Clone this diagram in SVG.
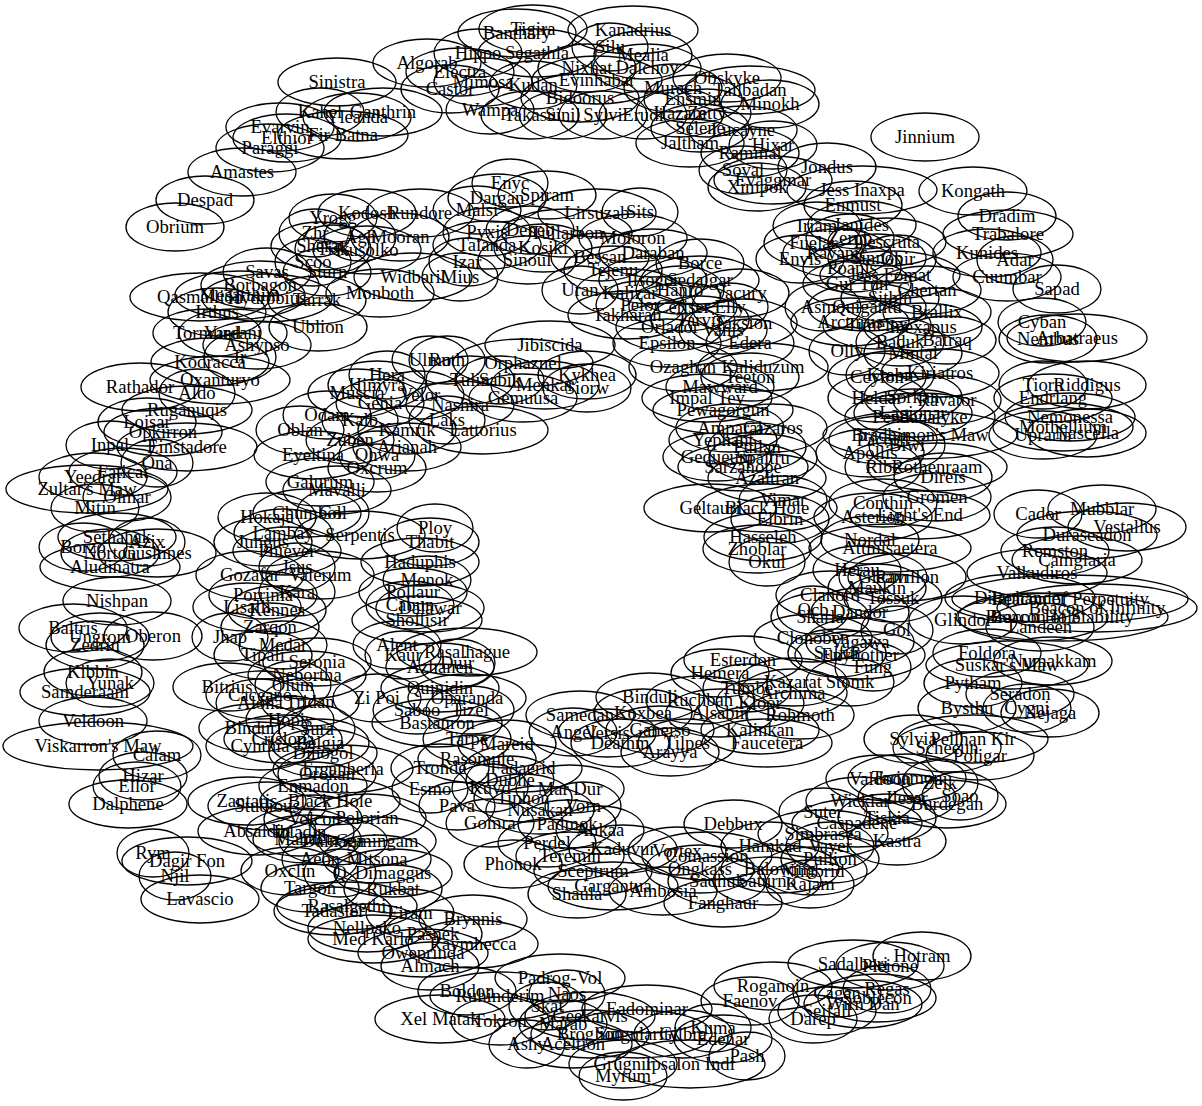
<svg xmlns="http://www.w3.org/2000/svg" width="1202" height="1106" viewBox="0 0 1202 1106">
<style>
ellipse{fill:none;stroke:#000;stroke-width:1.3}
text{font-family:"Liberation Serif","Times New Roman",serif;font-size:18.67px;text-anchor:middle;fill:#000}
</style>
<rect width="1202" height="1106" fill="#fff"/>
<g id="edges"></g>
<g id="nodes">
<g id="n1"><ellipse cx="533" cy="29" rx="54" ry="24"/><text x="533" y="35">Tigira</text></g>
<g id="n2"><ellipse cx="517" cy="33" rx="59" ry="24"/><text x="517" y="39">Banthary</text></g>
<g id="n3"><ellipse cx="633" cy="30" rx="65" ry="24"/><text x="633" y="36">Kanadrius</text></g>
<g id="n4"><ellipse cx="427" cy="63" rx="54" ry="24"/><text x="427" y="69">Algorab</text></g>
<g id="n5"><ellipse cx="478" cy="53" rx="44" ry="24"/><text x="478" y="59">Hippo</text></g>
<g id="n6"><ellipse cx="537" cy="53" rx="59" ry="24"/><text x="537" y="59">Segathia</text></g>
<g id="n7"><ellipse cx="610" cy="47" rx="38" ry="24"/><text x="610" y="53">Silu</text></g>
<g id="n8"><ellipse cx="643" cy="55" rx="49" ry="24"/><text x="643" y="61">Mealia</text></g>
<g id="n9"><ellipse cx="460" cy="72" rx="54" ry="24"/><text x="460" y="78">Electra</text></g>
<g id="n10"><ellipse cx="587" cy="68" rx="49" ry="24"/><text x="587" y="74">Nixhat</text></g>
<g id="n11"><ellipse cx="647" cy="68" rx="54" ry="24"/><text x="647" y="74">Dalchoy</text></g>
<g id="n12"><ellipse cx="597" cy="80" rx="65" ry="24"/><text x="597" y="86">Evinhabar</text></g>
<g id="n13"><ellipse cx="483" cy="82" rx="49" ry="24"/><text x="483" y="88">Mimosa</text></g>
<g id="n14"><ellipse cx="450" cy="89" rx="49" ry="24"/><text x="450" y="95">Castor</text></g>
<g id="n15"><ellipse cx="533" cy="85" rx="44" ry="24"/><text x="533" y="91">Kudan</text></g>
<g id="n16"><ellipse cx="727" cy="78" rx="54" ry="24"/><text x="727" y="84">Obskyke</text></g>
<g id="n17"><ellipse cx="673" cy="88" rx="49" ry="24"/><text x="673" y="94">Murach</text></g>
<g id="n18"><ellipse cx="750" cy="90" rx="65" ry="24"/><text x="750" y="96">Tallbadan</text></g>
<g id="n19"><ellipse cx="693" cy="99" rx="49" ry="24"/><text x="693" y="105">Ensmin</text></g>
<g id="n20"><ellipse cx="770" cy="104" rx="49" ry="24"/><text x="770" y="110">Minokh</text></g>
<g id="n21"><ellipse cx="580" cy="98" rx="59" ry="24"/><text x="580" y="104">Bidoorus</text></g>
<g id="n22"><ellipse cx="490" cy="110" rx="44" ry="24"/><text x="490" y="116">Wampa</text></g>
<g id="n23"><ellipse cx="530" cy="115" rx="49" ry="24"/><text x="530" y="121">Takasu</text></g>
<g id="n24"><ellipse cx="563" cy="115" rx="44" ry="24"/><text x="563" y="121">Sinil</text></g>
<g id="n25"><ellipse cx="603" cy="115" rx="44" ry="24"/><text x="603" y="121">Sylvi</text></g>
<g id="n26"><ellipse cx="643" cy="115" rx="44" ry="24"/><text x="643" y="121">Erudi</text></g>
<g id="n27"><ellipse cx="680" cy="113" rx="44" ry="24"/><text x="680" y="119">Hazam</text></g>
<g id="n28"><ellipse cx="707" cy="113" rx="44" ry="24"/><text x="707" y="119">Zetty</text></g>
<g id="n29"><ellipse cx="700" cy="128" rx="49" ry="24"/><text x="700" y="134">Selene</text></g>
<g id="n30"><ellipse cx="743" cy="130" rx="54" ry="24"/><text x="743" y="136">Lucayne</text></g>
<g id="n31"><ellipse cx="690" cy="143" rx="54" ry="24"/><text x="690" y="149">Jaltham</text></g>
<g id="n32"><ellipse cx="773" cy="145" rx="44" ry="24"/><text x="773" y="151">Hixar</text></g>
<g id="n33"><ellipse cx="750" cy="153" rx="49" ry="24"/><text x="750" y="159">Rammal</text></g>
<g id="n34"><ellipse cx="743" cy="170" rx="44" ry="24"/><text x="743" y="176">Soval</text></g>
<g id="n35"><ellipse cx="773" cy="180" rx="59" ry="24"/><text x="773" y="186">Evaggmar</text></g>
<g id="n36"><ellipse cx="757" cy="187" rx="49" ry="24"/><text x="757" y="193">Ximpok</text></g>
<g id="n37"><ellipse cx="827" cy="167" rx="49" ry="24"/><text x="827" y="173">Jondus</text></g>
<g id="n38"><ellipse cx="925" cy="137" rx="54" ry="24"/><text x="925" y="143">Jinnium</text></g>
<g id="n39"><ellipse cx="862" cy="190" rx="75" ry="24"/><text x="862" y="196">Jess Inaxpa</text></g>
<g id="n40"><ellipse cx="973" cy="191" rx="54" ry="24"/><text x="973" y="197">Kongath</text></g>
<g id="n41"><ellipse cx="853" cy="205" rx="49" ry="24"/><text x="853" y="211">Enmust</text></g>
<g id="n42"><ellipse cx="1007" cy="216" rx="49" ry="24"/><text x="1007" y="222">Dradim</text></g>
<g id="n43"><ellipse cx="1008" cy="234" rx="65" ry="24"/><text x="1008" y="240">Trabalore</text></g>
<g id="n44"><ellipse cx="817" cy="226" rx="44" ry="24"/><text x="817" y="232">Iriam</text></g>
<g id="n45"><ellipse cx="862" cy="225" rx="54" ry="24"/><text x="862" y="231">Ianides</text></g>
<g id="n46"><ellipse cx="850" cy="238" rx="44" ry="24"/><text x="850" y="244">Zerub</text></g>
<g id="n47"><ellipse cx="813" cy="243" rx="49" ry="24"/><text x="813" y="249">Fuelar</text></g>
<g id="n48"><ellipse cx="887" cy="242" rx="59" ry="24"/><text x="887" y="248">Descruta</text></g>
<g id="n49"><ellipse cx="837" cy="253" rx="54" ry="24"/><text x="837" y="259">Ravanic</text></g>
<g id="n50"><ellipse cx="800" cy="259" rx="44" ry="24"/><text x="800" y="265">Envis</text></g>
<g id="n51"><ellipse cx="877" cy="258" rx="49" ry="24"/><text x="877" y="264">Sinnop</text></g>
<g id="n52"><ellipse cx="898" cy="259" rx="38" ry="24"/><text x="898" y="265">Ghir</text></g>
<g id="n53"><ellipse cx="987" cy="253" rx="54" ry="24"/><text x="987" y="259">Kunides</text></g>
<g id="n54"><ellipse cx="1015" cy="260" rx="38" ry="24"/><text x="1015" y="266">Adar</text></g>
<g id="n55"><ellipse cx="1007" cy="277" rx="54" ry="24"/><text x="1007" y="283">Cuumbar</text></g>
<g id="n56"><ellipse cx="1057" cy="289" rx="44" ry="24"/><text x="1057" y="295">Sapad</text></g>
<g id="n57"><ellipse cx="852" cy="268" rx="49" ry="24"/><text x="852" y="274">Poanis</text></g>
<g id="n58"><ellipse cx="890" cy="275" rx="70" ry="24"/><text x="890" y="281">Jess Fomat</text></g>
<g id="n59"><ellipse cx="857" cy="284" rx="54" ry="24"/><text x="857" y="290">Gur Tun</text></g>
<g id="n60"><ellipse cx="927" cy="290" rx="54" ry="24"/><text x="927" y="296">Chertan</text></g>
<g id="n61"><ellipse cx="890" cy="298" rx="49" ry="24"/><text x="890" y="304">Sithin</text></g>
<g id="n62"><ellipse cx="823" cy="307" rx="38" ry="24"/><text x="823" y="313">Asmo</text></g>
<g id="n63"><ellipse cx="867" cy="307" rx="59" ry="24"/><text x="867" y="313">Quigantu</text></g>
<g id="n64"><ellipse cx="937" cy="312" rx="54" ry="24"/><text x="937" y="318">Brallix</text></g>
<g id="n65"><ellipse cx="850" cy="322" rx="59" ry="24"/><text x="850" y="328">Arcturus</text></g>
<g id="n66"><ellipse cx="877" cy="325" rx="54" ry="24"/><text x="877" y="331">Timelex</text></g>
<g id="n67"><ellipse cx="923" cy="327" rx="59" ry="24"/><text x="923" y="333">Inexapus</text></g>
<g id="n68"><ellipse cx="900" cy="342" rx="44" ry="24"/><text x="900" y="348">Baduk</text></g>
<g id="n69"><ellipse cx="947" cy="340" rx="49" ry="24"/><text x="947" y="346">Batraq</text></g>
<g id="n70"><ellipse cx="847" cy="351" rx="38" ry="24"/><text x="847" y="357">Olly</text></g>
<g id="n71"><ellipse cx="913" cy="353" rx="49" ry="24"/><text x="913" y="359">Mintal</text></g>
<g id="n72"><ellipse cx="1042" cy="322" rx="44" ry="24"/><text x="1042" y="328">Cyban</text></g>
<g id="n73"><ellipse cx="1048" cy="339" rx="49" ry="24"/><text x="1048" y="345">Nembus</text></g>
<g id="n74"><ellipse cx="1077" cy="338" rx="70" ry="24"/><text x="1077" y="344">Arbatraeus</text></g>
<g id="n75"><ellipse cx="337" cy="82" rx="59" ry="24"/><text x="337" y="88">Sinistra</text></g>
<g id="n76"><ellipse cx="320" cy="112" rx="44" ry="24"/><text x="320" y="118">Kahel</text></g>
<g id="n77"><ellipse cx="383" cy="112" rx="59" ry="24"/><text x="383" y="118">Ganthrin</text></g>
<g id="n78"><ellipse cx="357" cy="117" rx="54" ry="24"/><text x="357" y="123">Yleanda</text></g>
<g id="n79"><ellipse cx="280" cy="127" rx="54" ry="24"/><text x="280" y="133">Evarvin</text></g>
<g id="n80"><ellipse cx="287" cy="138" rx="54" ry="24"/><text x="287" y="144">Elthior</text></g>
<g id="n81"><ellipse cx="343" cy="135" rx="65" ry="24"/><text x="343" y="141">Fir Batna</text></g>
<g id="n82"><ellipse cx="270" cy="148" rx="54" ry="24"/><text x="270" y="154">Paraggi</text></g>
<g id="n83"><ellipse cx="242" cy="172" rx="54" ry="24"/><text x="242" y="178">Amastes</text></g>
<g id="n84"><ellipse cx="205" cy="200" rx="49" ry="24"/><text x="205" y="206">Despad</text></g>
<g id="n85"><ellipse cx="175" cy="227" rx="49" ry="24"/><text x="175" y="233">Obrium</text></g>
<g id="n86"><ellipse cx="333" cy="218" rx="44" ry="24"/><text x="333" y="224">Yrogg</text></g>
<g id="n87"><ellipse cx="367" cy="213" rx="49" ry="24"/><text x="367" y="219">Kodosh</text></g>
<g id="n88"><ellipse cx="420" cy="213" rx="54" ry="24"/><text x="420" y="219">Rundore</text></g>
<g id="n89"><ellipse cx="477" cy="210" rx="44" ry="24"/><text x="477" y="216">Malsi</text></g>
<g id="n90"><ellipse cx="315" cy="233" rx="36" ry="24"/><text x="315" y="239">Zhr</text></g>
<g id="n91"><ellipse cx="360" cy="237" rx="36" ry="24"/><text x="360" y="243">Agh</text></g>
<g id="n92"><ellipse cx="400" cy="237" rx="49" ry="24"/><text x="400" y="243">Mooran</text></g>
<g id="n93"><ellipse cx="320" cy="246" rx="49" ry="24"/><text x="320" y="252">Sherat</text></g>
<g id="n94"><ellipse cx="333" cy="249" rx="38" ry="24"/><text x="333" y="255">Tisk</text></g>
<g id="n95"><ellipse cx="367" cy="250" rx="54" ry="24"/><text x="367" y="256">Kusolko</text></g>
<g id="n96"><ellipse cx="313" cy="262" rx="38" ry="24"/><text x="313" y="268">Scoo</text></g>
<g id="n97"><ellipse cx="267" cy="272" rx="44" ry="24"/><text x="267" y="278">Savas</text></g>
<g id="n98"><ellipse cx="327" cy="272" rx="44" ry="24"/><text x="327" y="278">Sturn</text></g>
<g id="n99"><ellipse cx="260" cy="285" rx="59" ry="24"/><text x="260" y="291">Borbagon</text></g>
<g id="n100"><ellipse cx="200" cy="297" rx="70" ry="24"/><text x="200" y="303">Qasmallion</text></g>
<g id="n101"><ellipse cx="240" cy="295" rx="65" ry="24"/><text x="240" y="301">Mesarthim</text></g>
<g id="n102"><ellipse cx="267" cy="298" rx="65" ry="24"/><text x="267" y="304">Hydrobius</text></g>
<g id="n103"><ellipse cx="317" cy="300" rx="49" ry="24"/><text x="317" y="306">Tarrak</text></g>
<g id="n104"><ellipse cx="380" cy="293" rx="54" ry="24"/><text x="380" y="299">Monboth</text></g>
<g id="n105"><ellipse cx="413" cy="277" rx="59" ry="24"/><text x="413" y="283">Widbaril</text></g>
<g id="n106"><ellipse cx="460" cy="277" rx="38" ry="24"/><text x="460" y="283">Mius</text></g>
<g id="n107"><ellipse cx="217" cy="312" rx="49" ry="24"/><text x="217" y="318">Irthus</text></g>
<g id="n108"><ellipse cx="318" cy="327" rx="49" ry="24"/><text x="318" y="333">Ublion</text></g>
<g id="n109"><ellipse cx="207" cy="333" rx="54" ry="24"/><text x="207" y="339">Tormund</text></g>
<g id="n110"><ellipse cx="233" cy="333" rx="54" ry="24"/><text x="233" y="339">Vardani</text></g>
<g id="n111"><ellipse cx="257" cy="345" rx="54" ry="24"/><text x="257" y="351">Ashypso</text></g>
<g id="n112"><ellipse cx="240" cy="357" rx="36" ry="24"/><text x="240" y="363">Ir</text></g>
<g id="n113"><ellipse cx="210" cy="362" rx="59" ry="24"/><text x="210" y="368">Kodracca</text></g>
<g id="n114"><ellipse cx="510" cy="183" rx="38" ry="24"/><text x="510" y="189">Enyc</text></g>
<g id="n115"><ellipse cx="497" cy="198" rx="49" ry="24"/><text x="497" y="204">Dargan</text></g>
<g id="n116"><ellipse cx="547" cy="195" rx="49" ry="24"/><text x="547" y="201">Spiram</text></g>
<g id="n117"><ellipse cx="597" cy="213" rx="59" ry="24"/><text x="597" y="219">Lirsuzab</text></g>
<g id="n118"><ellipse cx="640" cy="212" rx="38" ry="24"/><text x="640" y="218">Sits</text></g>
<g id="n119"><ellipse cx="487" cy="232" rx="44" ry="24"/><text x="487" y="238">Pyxis</text></g>
<g id="n120"><ellipse cx="530" cy="230" rx="44" ry="24"/><text x="530" y="236">Deneb</text></g>
<g id="n121"><ellipse cx="567" cy="233" rx="65" ry="24"/><text x="567" y="239">Tullarbon</text></g>
<g id="n122"><ellipse cx="633" cy="238" rx="54" ry="24"/><text x="633" y="244">Moloron</text></g>
<g id="n123"><ellipse cx="487" cy="245" rx="54" ry="24"/><text x="487" y="251">Talanda</text></g>
<g id="n124"><ellipse cx="543" cy="248" rx="49" ry="24"/><text x="543" y="254">Kosiki</text></g>
<g id="n125"><ellipse cx="653" cy="253" rx="54" ry="24"/><text x="653" y="259">Daraban</text></g>
<g id="n126"><ellipse cx="600" cy="257" rx="49" ry="24"/><text x="600" y="263">Bessan</text></g>
<g id="n127"><ellipse cx="467" cy="262" rx="38" ry="24"/><text x="467" y="268">Izar</text></g>
<g id="n128"><ellipse cx="527" cy="260" rx="49" ry="24"/><text x="527" y="266">Sinoul</text></g>
<g id="n129"><ellipse cx="700" cy="263" rx="44" ry="24"/><text x="700" y="269">Borce</text></g>
<g id="n130"><ellipse cx="613" cy="270" rx="49" ry="24"/><text x="613" y="276">Tejenu</text></g>
<g id="n131"><ellipse cx="653" cy="280" rx="54" ry="24"/><text x="653" y="286">Ilsogor</text></g>
<g id="n132"><ellipse cx="700" cy="280" rx="59" ry="24"/><text x="700" y="286">Sedalgar</text></g>
<g id="n133"><ellipse cx="580" cy="290" rx="38" ry="24"/><text x="580" y="296">Uran</text></g>
<g id="n134"><ellipse cx="630" cy="293" rx="54" ry="24"/><text x="630" y="299">Kalizar</text></g>
<g id="n135"><ellipse cx="740" cy="293" rx="49" ry="24"/><text x="740" y="299">Yacury</text></g>
<g id="n136"><ellipse cx="683" cy="307" rx="54" ry="24"/><text x="683" y="313">Ceriser</text></g>
<g id="n137"><ellipse cx="730" cy="307" rx="38" ry="24"/><text x="730" y="313">Elly</text></g>
<g id="n138"><ellipse cx="627" cy="315" rx="59" ry="24"/><text x="627" y="321">Takharan</text></g>
<g id="n139"><ellipse cx="743" cy="323" rx="54" ry="24"/><text x="743" y="329">Taksion</text></g>
<g id="n140"><ellipse cx="670" cy="327" rx="54" ry="24"/><text x="670" y="333">Orlador</text></g>
<g id="n141"><ellipse cx="723" cy="330" rx="44" ry="24"/><text x="723" y="336">Vanis</text></g>
<g id="n142"><ellipse cx="667" cy="343" rx="54" ry="24"/><text x="667" y="349">Epsilon</text></g>
<g id="n143"><ellipse cx="750" cy="343" rx="44" ry="24"/><text x="750" y="349">Edera</text></g>
<g id="n144"><ellipse cx="550" cy="345" rx="65" ry="24"/><text x="550" y="351">Jibiscida</text></g>
<g id="n145"><ellipse cx="680" cy="290" rx="44" ry="24"/><text x="680" y="296">Hanro</text></g>
<g id="n146"><ellipse cx="640" cy="305" rx="44" ry="24"/><text x="640" y="311">Pelor</text></g>
<g id="n147"><ellipse cx="700" cy="320" rx="49" ry="24"/><text x="700" y="326">Tarvis</text></g>
<g id="n148"><ellipse cx="430" cy="360" rx="38" ry="24"/><text x="430" y="366">Ulmo</text></g>
<g id="n149"><ellipse cx="447" cy="360" rx="38" ry="24"/><text x="447" y="366">Ruth</text></g>
<g id="n150"><ellipse cx="523" cy="363" rx="70" ry="24"/><text x="523" y="369">Orphazuel</text></g>
<g id="n151"><ellipse cx="587" cy="375" rx="49" ry="24"/><text x="587" y="381">Kykhea</text></g>
<g id="n152"><ellipse cx="587" cy="388" rx="44" ry="24"/><text x="587" y="394">Siorw</text></g>
<g id="n153"><ellipse cx="387" cy="375" rx="38" ry="24"/><text x="387" y="381">Hera</text></g>
<g id="n154"><ellipse cx="377" cy="385" rx="49" ry="24"/><text x="377" y="391">Himyra</text></g>
<g id="n155"><ellipse cx="357" cy="393" rx="49" ry="24"/><text x="357" y="399">Muscia</text></g>
<g id="n156"><ellipse cx="380" cy="403" rx="44" ry="24"/><text x="380" y="409">Genia</text></g>
<g id="n157"><ellipse cx="523" cy="398" rx="54" ry="24"/><text x="523" y="404">Gemuusa</text></g>
<g id="n158"><ellipse cx="447" cy="420" rx="38" ry="24"/><text x="447" y="426">Laks</text></g>
<g id="n159"><ellipse cx="327" cy="415" rx="44" ry="24"/><text x="327" y="421">Odam</text></g>
<g id="n160"><ellipse cx="300" cy="430" rx="44" ry="24"/><text x="300" y="436">Oblan</text></g>
<g id="n161"><ellipse cx="407" cy="430" rx="49" ry="24"/><text x="407" y="436">Kamrik</text></g>
<g id="n162"><ellipse cx="483" cy="430" rx="65" ry="24"/><text x="483" y="436">Lattorius</text></g>
<g id="n163"><ellipse cx="407" cy="447" rx="54" ry="24"/><text x="407" y="453">Arianah</text></g>
<g id="n164"><ellipse cx="313" cy="455" rx="59" ry="24"/><text x="313" y="461">Eyeltina</text></g>
<g id="n165"><ellipse cx="377" cy="455" rx="38" ry="24"/><text x="377" y="461">Ohwa</text></g>
<g id="n166"><ellipse cx="377" cy="468" rx="49" ry="24"/><text x="377" y="474">Oxcrum</text></g>
<g id="n167"><ellipse cx="320" cy="482" rx="54" ry="24"/><text x="320" y="488">Galurum</text></g>
<g id="n168"><ellipse cx="337" cy="490" rx="54" ry="24"/><text x="337" y="496">Mavalli</text></g>
<g id="n169"><ellipse cx="470" cy="380" rx="44" ry="24"/><text x="470" y="386">Tulin</text></g>
<g id="n170"><ellipse cx="420" cy="395" rx="44" ry="24"/><text x="420" y="401">Velor</text></g>
<g id="n171"><ellipse cx="460" cy="405" rx="54" ry="24"/><text x="460" y="411">Nashira</text></g>
<g id="n172"><ellipse cx="360" cy="420" rx="38" ry="24"/><text x="360" y="426">Kalb</text></g>
<g id="n173"><ellipse cx="500" cy="380" rx="44" ry="24"/><text x="500" y="386">Sabik</text></g>
<g id="n174"><ellipse cx="545" cy="385" rx="54" ry="24"/><text x="545" y="391">Menkar</text></g>
<g id="n175"><ellipse cx="350" cy="440" rx="44" ry="24"/><text x="350" y="446">Zuben</text></g>
<g id="n176"><ellipse cx="220" cy="380" rx="70" ry="24"/><text x="220" y="386">Oxanturyo</text></g>
<g id="n177"><ellipse cx="140" cy="387" rx="59" ry="24"/><text x="140" y="393">Rathador</text></g>
<g id="n178"><ellipse cx="197" cy="393" rx="38" ry="24"/><text x="197" y="399">Aldo</text></g>
<g id="n179"><ellipse cx="187" cy="410" rx="65" ry="24"/><text x="187" y="416">Ruganuqis</text></g>
<g id="n180"><ellipse cx="147" cy="422" rx="49" ry="24"/><text x="147" y="428">Loisar</text></g>
<g id="n181"><ellipse cx="163" cy="432" rx="59" ry="24"/><text x="163" y="438">Opkirron</text></g>
<g id="n182"><ellipse cx="110" cy="445" rx="44" ry="24"/><text x="110" y="451">Inpal</text></g>
<g id="n183"><ellipse cx="187" cy="447" rx="70" ry="24"/><text x="187" y="453">Einstadore</text></g>
<g id="n184"><ellipse cx="157" cy="463" rx="36" ry="24"/><text x="157" y="469">Ona</text></g>
<g id="n185"><ellipse cx="123" cy="472" rx="54" ry="24"/><text x="123" y="478">Faticat</text></g>
<g id="n186"><ellipse cx="93" cy="477" rx="54" ry="24"/><text x="93" y="483">Yeedrar</text></g>
<g id="n187"><ellipse cx="87" cy="489" rx="81" ry="24"/><text x="87" y="495">Zultar's Maw</text></g>
<g id="n188"><ellipse cx="127" cy="497" rx="44" ry="24"/><text x="127" y="503">Olmar</text></g>
<g id="n189"><ellipse cx="95" cy="508" rx="44" ry="24"/><text x="95" y="514">Mitin</text></g>
<g id="n190"><ellipse cx="117" cy="537" rx="59" ry="24"/><text x="117" y="543">Sethahak</text></g>
<g id="n191"><ellipse cx="147" cy="542" rx="38" ry="24"/><text x="147" y="548">Azix</text></g>
<g id="n192"><ellipse cx="83" cy="547" rx="44" ry="24"/><text x="83" y="553">Borzo</text></g>
<g id="n193"><ellipse cx="110" cy="553" rx="49" ry="24"/><text x="110" y="559">Norton</text></g>
<g id="n194"><ellipse cx="157" cy="553" rx="59" ry="24"/><text x="157" y="559">Gushines</text></g>
<g id="n195"><ellipse cx="110" cy="567" rx="70" ry="24"/><text x="110" y="573">Aludinatra</text></g>
<g id="n196"><ellipse cx="117" cy="601" rx="54" ry="24"/><text x="117" y="607">Nishpan</text></g>
<g id="n197"><ellipse cx="73" cy="628" rx="54" ry="24"/><text x="73" y="634">Baltris</text></g>
<g id="n198"><ellipse cx="100" cy="637" rx="49" ry="24"/><text x="100" y="643">Ungrom</text></g>
<g id="n199"><ellipse cx="153" cy="636" rx="49" ry="24"/><text x="153" y="642">Oberon</text></g>
<g id="n200"><ellipse cx="95" cy="645" rx="49" ry="24"/><text x="95" y="651">Zedrin</text></g>
<g id="n201"><ellipse cx="93" cy="672" rx="49" ry="24"/><text x="93" y="678">Kibbin</text></g>
<g id="n202"><ellipse cx="110" cy="683" rx="44" ry="24"/><text x="110" y="689">Yunak</text></g>
<g id="n203"><ellipse cx="85" cy="692" rx="65" ry="24"/><text x="85" y="698">Samderaam</text></g>
<g id="n204"><ellipse cx="93" cy="721" rx="54" ry="24"/><text x="93" y="727">Veldoon</text></g>
<g id="n205"><ellipse cx="98" cy="746" rx="95" ry="24"/><text x="98" y="752">Viskarron's Maw</text></g>
<g id="n206"><ellipse cx="157" cy="755" rx="44" ry="24"/><text x="157" y="761">Calam</text></g>
<g id="n207"><ellipse cx="143" cy="776" rx="44" ry="24"/><text x="143" y="782">Hizar</text></g>
<g id="n208"><ellipse cx="137" cy="786" rx="44" ry="24"/><text x="137" y="792">Ellor</text></g>
<g id="n209"><ellipse cx="128" cy="804" rx="59" ry="24"/><text x="128" y="810">Dalphene</text></g>
<g id="n210"><ellipse cx="153" cy="853" rx="36" ry="24"/><text x="153" y="859">Rym</text></g>
<g id="n211"><ellipse cx="187" cy="861" rx="65" ry="24"/><text x="187" y="867">Dagir Fon</text></g>
<g id="n212"><ellipse cx="175" cy="876" rx="36" ry="24"/><text x="175" y="882">Njil</text></g>
<g id="n213"><ellipse cx="200" cy="899" rx="59" ry="24"/><text x="200" y="905">Lavascio</text></g>
<g id="n214"><ellipse cx="267" cy="517" rx="49" ry="24"/><text x="267" y="523">Hokaja</text></g>
<g id="n215"><ellipse cx="307" cy="513" rx="54" ry="24"/><text x="307" y="519">Chumbol</text></g>
<g id="n216"><ellipse cx="333" cy="513" rx="36" ry="24"/><text x="333" y="519">Gol</text></g>
<g id="n217"><ellipse cx="283" cy="533" rx="49" ry="24"/><text x="283" y="539">Lambay</text></g>
<g id="n218"><ellipse cx="360" cy="535" rx="65" ry="24"/><text x="360" y="541">Serpentis</text></g>
<g id="n219"><ellipse cx="263" cy="542" rx="49" ry="24"/><text x="263" y="548">Jungus</text></g>
<g id="n220"><ellipse cx="287" cy="551" rx="54" ry="24"/><text x="287" y="557">Phiever</text></g>
<g id="n221"><ellipse cx="297" cy="567" rx="38" ry="24"/><text x="297" y="573">Jsus</text></g>
<g id="n222"><ellipse cx="250" cy="575" rx="54" ry="24"/><text x="250" y="581">Gozafar</text></g>
<g id="n223"><ellipse cx="320" cy="575" rx="54" ry="24"/><text x="320" y="581">Valerum</text></g>
<g id="n224"><ellipse cx="263" cy="595" rx="54" ry="24"/><text x="263" y="601">Porrima</text></g>
<g id="n225"><ellipse cx="297" cy="592" rx="38" ry="24"/><text x="297" y="598">Kara</text></g>
<g id="n226"><ellipse cx="247" cy="607" rx="54" ry="24"/><text x="247" y="613">Lisalli</text></g>
<g id="n227"><ellipse cx="277" cy="610" rx="49" ry="24"/><text x="277" y="616">Kennes</text></g>
<g id="n228"><ellipse cx="270" cy="627" rx="49" ry="24"/><text x="270" y="633">Zarqon</text></g>
<g id="n229"><ellipse cx="230" cy="637" rx="38" ry="24"/><text x="230" y="643">Jhap</text></g>
<g id="n230"><ellipse cx="283" cy="645" rx="44" ry="24"/><text x="283" y="651">Medar</text></g>
<g id="n231"><ellipse cx="263" cy="655" rx="49" ry="24"/><text x="263" y="661">Tipali</text></g>
<g id="n232"><ellipse cx="317" cy="662" rx="54" ry="24"/><text x="317" y="668">Seronia</text></g>
<g id="n233"><ellipse cx="307" cy="675" rx="59" ry="24"/><text x="307" y="681">Nebortha</text></g>
<g id="n234"><ellipse cx="227" cy="687" rx="54" ry="24"/><text x="227" y="693">Bitrius</text></g>
<g id="n235"><ellipse cx="293" cy="685" rx="38" ry="24"/><text x="293" y="691">Olum</text></g>
<g id="n236"><ellipse cx="260" cy="695" rx="54" ry="24"/><text x="260" y="701">Caceano</text></g>
<g id="n237"><ellipse cx="260" cy="703" rx="44" ry="24"/><text x="260" y="709">Aloha</text></g>
<g id="n238"><ellipse cx="310" cy="702" rx="49" ry="24"/><text x="310" y="708">Tridan</text></g>
<g id="n239"><ellipse cx="290" cy="720" rx="44" ry="24"/><text x="290" y="726">Hopis</text></g>
<g id="n240"><ellipse cx="253" cy="728" rx="54" ry="24"/><text x="253" y="734">Binduri</text></g>
<g id="n241"><ellipse cx="317" cy="729" rx="38" ry="24"/><text x="317" y="735">Sura</text></g>
<g id="n242"><ellipse cx="283" cy="739" rx="59" ry="24"/><text x="283" y="745">Crislona</text></g>
<g id="n243"><ellipse cx="260" cy="746" rx="54" ry="24"/><text x="260" y="752">Cynthia</text></g>
<g id="n244"><ellipse cx="320" cy="743" rx="49" ry="24"/><text x="320" y="749">Belgia</text></g>
<g id="n245"><ellipse cx="323" cy="753" rx="54" ry="24"/><text x="323" y="759">Dinogol</text></g>
<g id="n246"><ellipse cx="343" cy="769" rx="70" ry="24"/><text x="343" y="775">Erganheria</text></g>
<g id="n247"><ellipse cx="327" cy="774" rx="49" ry="24"/><text x="327" y="780">Orokan</text></g>
<g id="n248"><ellipse cx="313" cy="786" rx="54" ry="24"/><text x="313" y="792">Enmadon</text></g>
<g id="n249"><ellipse cx="247" cy="801" rx="59" ry="24"/><text x="247" y="807">Zantaris</text></g>
<g id="n250"><ellipse cx="330" cy="801" rx="70" ry="24"/><text x="330" y="807">Black Hole</text></g>
<g id="n251"><ellipse cx="267" cy="806" rx="59" ry="24"/><text x="267" y="812">Studious</text></g>
<g id="n252"><ellipse cx="313" cy="819" rx="49" ry="24"/><text x="313" y="825">Volcor</text></g>
<g id="n253"><ellipse cx="367" cy="818" rx="59" ry="24"/><text x="367" y="824">Polorian</text></g>
<g id="n254"><ellipse cx="257" cy="831" rx="59" ry="24"/><text x="257" y="837">Absaldin</text></g>
<g id="n255"><ellipse cx="300" cy="832" rx="54" ry="24"/><text x="300" y="838">Ibladin</text></g>
<g id="n256"><ellipse cx="307" cy="839" rx="54" ry="24"/><text x="307" y="845">Mahdeta</text></g>
<g id="n257"><ellipse cx="333" cy="841" rx="54" ry="24"/><text x="333" y="847">Dalnaga</text></g>
<g id="n258"><ellipse cx="377" cy="841" rx="59" ry="24"/><text x="377" y="847">Gamingam</text></g>
<g id="n259"><ellipse cx="320" cy="859" rx="38" ry="24"/><text x="320" y="865">Aeon</text></g>
<g id="n260"><ellipse cx="377" cy="859" rx="54" ry="24"/><text x="377" y="865">Mitsona</text></g>
<g id="n261"><ellipse cx="290" cy="871" rx="49" ry="24"/><text x="290" y="877">Oxclin</text></g>
<g id="n262"><ellipse cx="340" cy="873" rx="36" ry="24"/><text x="340" y="879">Q</text></g>
<g id="n263"><ellipse cx="393" cy="873" rx="59" ry="24"/><text x="393" y="879">Dimaggus</text></g>
<g id="n264"><ellipse cx="310" cy="888" rx="49" ry="24"/><text x="310" y="894">Targon</text></g>
<g id="n265"><ellipse cx="393" cy="889" rx="49" ry="24"/><text x="393" y="895">Rukbat</text></g>
<g id="n266"><ellipse cx="347" cy="906" rx="70" ry="24"/><text x="347" y="912">Rasalgethi</text></g>
<g id="n267"><ellipse cx="333" cy="911" rx="59" ry="24"/><text x="333" y="917">Tadaster</text></g>
<g id="n268"><ellipse cx="367" cy="928" rx="59" ry="24"/><text x="367" y="934">Nellpako</text></g>
<g id="n269"><ellipse cx="373" cy="939" rx="65" ry="24"/><text x="373" y="945">Med Karlo</text></g>
<g id="n270"><ellipse cx="410" cy="913" rx="44" ry="24"/><text x="410" y="919">Eiram</text></g>
<g id="n271"><ellipse cx="473" cy="919" rx="54" ry="24"/><text x="473" y="925">Brynnis</text></g>
<g id="n272"><ellipse cx="433" cy="934" rx="49" ry="24"/><text x="433" y="940">Pasnek</text></g>
<g id="n273"><ellipse cx="473" cy="944" rx="65" ry="24"/><text x="473" y="950">Raymhecca</text></g>
<g id="n274"><ellipse cx="423" cy="953" rx="65" ry="24"/><text x="423" y="959">Oweprinda</text></g>
<g id="n275"><ellipse cx="430" cy="966" rx="49" ry="24"/><text x="430" y="972">Almach</text></g>
<g id="n276"><ellipse cx="435" cy="528" rx="38" ry="24"/><text x="435" y="534">Ploy</text></g>
<g id="n277"><ellipse cx="430" cy="542" rx="49" ry="24"/><text x="430" y="548">Thabit</text></g>
<g id="n278"><ellipse cx="420" cy="562" rx="59" ry="24"/><text x="420" y="568">Haduphis</text></g>
<g id="n279"><ellipse cx="427" cy="580" rx="44" ry="24"/><text x="427" y="586">Menok</text></g>
<g id="n280"><ellipse cx="413" cy="592" rx="54" ry="24"/><text x="413" y="598">Pollaur</text></g>
<g id="n281"><ellipse cx="410" cy="605" rx="44" ry="24"/><text x="410" y="611">Cabun</text></g>
<g id="n282"><ellipse cx="430" cy="608" rx="54" ry="24"/><text x="430" y="614">Dalawar</text></g>
<g id="n283"><ellipse cx="417" cy="620" rx="65" ry="24"/><text x="417" y="626">Shollisir</text></g>
<g id="n284"><ellipse cx="397" cy="645" rx="44" ry="24"/><text x="397" y="651">Alent</text></g>
<g id="n285"><ellipse cx="467" cy="652" rx="70" ry="24"/><text x="467" y="658">Rasalhague</text></g>
<g id="n286"><ellipse cx="403" cy="655" rx="38" ry="24"/><text x="403" y="661">Kaur</text></g>
<g id="n287"><ellipse cx="457" cy="663" rx="38" ry="24"/><text x="457" y="669">Duir</text></g>
<g id="n288"><ellipse cx="440" cy="667" rx="54" ry="24"/><text x="440" y="673">Azhanen</text></g>
<g id="n289"><ellipse cx="377" cy="698" rx="44" ry="24"/><text x="377" y="704">Zi Poi</text></g>
<g id="n290"><ellipse cx="440" cy="688" rx="59" ry="24"/><text x="440" y="694">Quinidin</text></g>
<g id="n291"><ellipse cx="467" cy="698" rx="59" ry="24"/><text x="467" y="704">Oparanda</text></g>
<g id="n292"><ellipse cx="417" cy="710" rx="44" ry="24"/><text x="417" y="716">Saboo</text></g>
<g id="n293"><ellipse cx="470" cy="710" rx="44" ry="24"/><text x="470" y="716">Tizel</text></g>
<g id="n294"><ellipse cx="437" cy="723" rx="65" ry="24"/><text x="437" y="729">Bastanron</text></g>
<g id="n295"><ellipse cx="467" cy="739" rx="44" ry="24"/><text x="467" y="745">Tarpe</text></g>
<g id="n296"><ellipse cx="507" cy="744" rx="49" ry="24"/><text x="507" y="750">Mareid</text></g>
<g id="n297"><ellipse cx="477" cy="759" rx="59" ry="24"/><text x="477" y="765">Rasomule</text></g>
<g id="n298"><ellipse cx="440" cy="768" rx="49" ry="24"/><text x="440" y="774">Tronde</text></g>
<g id="n299"><ellipse cx="523" cy="768" rx="59" ry="24"/><text x="523" y="774">Fadaerid</text></g>
<g id="n300"><ellipse cx="430" cy="789" rx="38" ry="24"/><text x="430" y="795">Esmo</text></g>
<g id="n301"><ellipse cx="490" cy="788" rx="38" ry="24"/><text x="490" y="794">Kuyd</text></g>
<g id="n302"><ellipse cx="570" cy="789" rx="54" ry="24"/><text x="570" y="795">Mar Dur</text></g>
<g id="n303"><ellipse cx="523" cy="798" rx="49" ry="24"/><text x="523" y="804">Tiphon</text></g>
<g id="n304"><ellipse cx="457" cy="806" rx="38" ry="24"/><text x="457" y="812">Pava</text></g>
<g id="n305"><ellipse cx="583" cy="806" rx="38" ry="24"/><text x="583" y="812">Vorn</text></g>
<g id="n306"><ellipse cx="490" cy="823" rx="44" ry="24"/><text x="490" y="829">Gomra</text></g>
<g id="n307"><ellipse cx="567" cy="824" rx="49" ry="24"/><text x="567" y="830">Padmok</text></g>
<g id="n308"><ellipse cx="547" cy="843" rx="49" ry="24"/><text x="547" y="849">Perdel</text></g>
<g id="n309"><ellipse cx="623" cy="849" rx="54" ry="24"/><text x="623" y="855">Kaduvur</text></g>
<g id="n310"><ellipse cx="677" cy="851" rx="49" ry="24"/><text x="677" y="857">Vortex</text></g>
<g id="n311"><ellipse cx="570" cy="856" rx="54" ry="24"/><text x="570" y="862">Teremin</text></g>
<g id="n312"><ellipse cx="513" cy="864" rx="49" ry="24"/><text x="513" y="870">Phonok</text></g>
<g id="n313"><ellipse cx="593" cy="871" rx="59" ry="24"/><text x="593" y="877">Sceptrum</text></g>
<g id="n314"><ellipse cx="700" cy="869" rx="54" ry="24"/><text x="700" y="875">Ongkass</text></g>
<g id="n315"><ellipse cx="613" cy="886" rx="65" ry="24"/><text x="613" y="892">Gargantua</text></g>
<g id="n316"><ellipse cx="577" cy="894" rx="49" ry="24"/><text x="577" y="900">Shaula</text></g>
<g id="n317"><ellipse cx="663" cy="891" rx="54" ry="24"/><text x="663" y="897">Ambosia</text></g>
<g id="n318"><ellipse cx="723" cy="903" rx="59" ry="24"/><text x="723" y="909">Fanghaur</text></g>
<g id="n319"><ellipse cx="540" cy="810" rx="54" ry="24"/><text x="540" y="816">Nusakan</text></g>
<g id="n320"><ellipse cx="510" cy="780" rx="44" ry="24"/><text x="510" y="786">Dubhe</text></g>
<g id="n321"><ellipse cx="600" cy="830" rx="44" ry="24"/><text x="600" y="836">Ankaa</text></g>
<g id="n322"><ellipse cx="733" cy="824" rx="49" ry="24"/><text x="733" y="830">Debbux</text></g>
<g id="n323"><ellipse cx="770" cy="846" rx="49" ry="24"/><text x="770" y="852">Hamkad</text></g>
<g id="n324"><ellipse cx="707" cy="856" rx="65" ry="24"/><text x="707" y="862">Comassion</text></g>
<g id="n325"><ellipse cx="780" cy="869" rx="59" ry="24"/><text x="780" y="875">Balowing</text></g>
<g id="n326"><ellipse cx="717" cy="881" rx="49" ry="24"/><text x="717" y="887">Sadhuk</text></g>
<g id="n327"><ellipse cx="767" cy="881" rx="54" ry="24"/><text x="767" y="887">Saturno</text></g>
<g id="n328"><ellipse cx="823" cy="834" rx="65" ry="24"/><text x="823" y="840">Simbrasea</text></g>
<g id="n329"><ellipse cx="830" cy="846" rx="44" ry="24"/><text x="830" y="852">Vayer</text></g>
<g id="n330"><ellipse cx="830" cy="859" rx="49" ry="24"/><text x="830" y="865">Pullion</text></g>
<g id="n331"><ellipse cx="813" cy="871" rx="54" ry="24"/><text x="813" y="877">Nimbrid</text></g>
<g id="n332"><ellipse cx="810" cy="884" rx="44" ry="24"/><text x="810" y="890">Kajam</text></g>
<g id="n333"><ellipse cx="823" cy="812" rx="44" ry="24"/><text x="823" y="818">Suter</text></g>
<g id="n334"><ellipse cx="887" cy="818" rx="49" ry="24"/><text x="887" y="824">Tiskia</text></g>
<g id="n335"><ellipse cx="857" cy="823" rx="65" ry="24"/><text x="857" y="829">Caspadene</text></g>
<g id="n336"><ellipse cx="897" cy="841" rx="49" ry="24"/><text x="897" y="847">Kastra</text></g>
<g id="n337"><ellipse cx="860" cy="801" rx="54" ry="24"/><text x="860" y="807">Wicklar</text></g>
<g id="n338"><ellipse cx="907" cy="798" rx="49" ry="24"/><text x="907" y="804">Ilesar</text></g>
<g id="n339"><ellipse cx="960" cy="796" rx="38" ry="24"/><text x="960" y="802">Soao</text></g>
<g id="n340"><ellipse cx="947" cy="804" rx="59" ry="24"/><text x="947" y="810">Burdegan</text></g>
<g id="n341"><ellipse cx="880" cy="779" rx="54" ry="24"/><text x="880" y="785">Valdoon</text></g>
<g id="n342"><ellipse cx="907" cy="778" rx="59" ry="24"/><text x="907" y="784">Tariamon</text></g>
<g id="n343"><ellipse cx="940" cy="783" rx="38" ry="24"/><text x="940" y="789">Zelk</text></g>
<g id="n344"><ellipse cx="913" cy="739" rx="49" ry="24"/><text x="913" y="745">Sylvia</text></g>
<g id="n345"><ellipse cx="973" cy="739" rx="75" ry="24"/><text x="973" y="745">Pellhan Kir</text></g>
<g id="n346"><ellipse cx="947" cy="748" rx="54" ry="24"/><text x="947" y="754">Scheeun</text></g>
<g id="n347"><ellipse cx="980" cy="756" rx="54" ry="24"/><text x="980" y="762">Poligar</text></g>
<g id="n348"><ellipse cx="580" cy="715" rx="54" ry="24"/><text x="580" y="721">Samedan</text></g>
<g id="n349"><ellipse cx="573" cy="732" rx="44" ry="24"/><text x="573" y="738">Angel</text></g>
<g id="n350"><ellipse cx="607" cy="733" rx="49" ry="24"/><text x="607" y="739">Versis</text></g>
<g id="n351"><ellipse cx="620" cy="743" rx="49" ry="24"/><text x="620" y="749">Deathm</text></g>
<g id="n352"><ellipse cx="643" cy="713" rx="49" ry="24"/><text x="643" y="719">Koxbea</text></g>
<g id="n353"><ellipse cx="650" cy="697" rx="54" ry="24"/><text x="650" y="703">Binduli</text></g>
<g id="n354"><ellipse cx="660" cy="730" rx="54" ry="24"/><text x="660" y="736">Ganeiso</text></g>
<g id="n355"><ellipse cx="670" cy="752" rx="49" ry="24"/><text x="670" y="758">Arayya</text></g>
<g id="n356"><ellipse cx="687" cy="743" rx="49" ry="24"/><text x="687" y="749">Tilpes</text></g>
<g id="n357"><ellipse cx="700" cy="700" rx="54" ry="24"/><text x="700" y="706">Ruchbah</text></g>
<g id="n358"><ellipse cx="743" cy="660" rx="59" ry="24"/><text x="743" y="666">Esterdon</text></g>
<g id="n359"><ellipse cx="720" cy="673" rx="49" ry="24"/><text x="720" y="679">Hemera</text></g>
<g id="n360"><ellipse cx="720" cy="713" rx="54" ry="24"/><text x="720" y="719">Alsabin</text></g>
<g id="n361"><ellipse cx="747" cy="688" rx="44" ry="24"/><text x="747" y="694">Tumbe</text></g>
<g id="n362"><ellipse cx="760" cy="703" rx="44" ry="24"/><text x="760" y="709">Kloor</text></g>
<g id="n363"><ellipse cx="760" cy="730" rx="59" ry="24"/><text x="760" y="736">Kalinkan</text></g>
<g id="n364"><ellipse cx="767" cy="743" rx="65" ry="24"/><text x="767" y="749">Faucetera</text></g>
<g id="n365"><ellipse cx="793" cy="682" rx="54" ry="24"/><text x="793" y="688">Kazarat</text></g>
<g id="n366"><ellipse cx="793" cy="693" rx="54" ry="24"/><text x="793" y="699">Archima</text></g>
<g id="n367"><ellipse cx="800" cy="715" rx="54" ry="24"/><text x="800" y="721">Rohmoth</text></g>
<g id="n368"><ellipse cx="837" cy="653" rx="49" ry="24"/><text x="837" y="659">Sulfur</text></g>
<g id="n369"><ellipse cx="850" cy="682" rx="44" ry="24"/><text x="850" y="688">Stomk</text></g>
<g id="n370"><ellipse cx="860" cy="655" rx="65" ry="24"/><text x="860" y="661">Enyhother</text></g>
<g id="n371"><ellipse cx="873" cy="667" rx="38" ry="24"/><text x="873" y="673">Fung</text></g>
<g id="n372"><ellipse cx="813" cy="638" rx="59" ry="24"/><text x="813" y="644">Clonoben</text></g>
<g id="n373"><ellipse cx="860" cy="642" rx="54" ry="24"/><text x="860" y="648">Vagawa</text></g>
<g id="n374"><ellipse cx="897" cy="630" rx="36" ry="24"/><text x="897" y="636">Gol</text></g>
<g id="n375"><ellipse cx="813" cy="610" rx="36" ry="24"/><text x="813" y="616">Ocb</text></g>
<g id="n376"><ellipse cx="860" cy="612" rx="49" ry="24"/><text x="860" y="618">Dandor</text></g>
<g id="n377"><ellipse cx="820" cy="617" rx="49" ry="24"/><text x="820" y="623">Sharla</text></g>
<g id="n378"><ellipse cx="830" cy="595" rx="54" ry="24"/><text x="830" y="601">Clanord</text></g>
<g id="n379"><ellipse cx="877" cy="588" rx="49" ry="24"/><text x="877" y="594">Maukin</text></g>
<g id="n380"><ellipse cx="893" cy="598" rx="49" ry="24"/><text x="893" y="604">Tossuk</text></g>
<g id="n381"><ellipse cx="857" cy="570" rx="44" ry="24"/><text x="857" y="576">Herau</text></g>
<g id="n382"><ellipse cx="883" cy="577" rx="44" ry="24"/><text x="883" y="583">Gleam</text></g>
<g id="n383"><ellipse cx="907" cy="577" rx="59" ry="24"/><text x="907" y="583">Ravillon</text></g>
<g id="n384"><ellipse cx="870" cy="540" rx="49" ry="24"/><text x="870" y="546">Nordal</text></g>
<g id="n385"><ellipse cx="890" cy="548" rx="81" ry="24"/><text x="890" y="554">Attmisaetera</text></g>
<g id="n386"><ellipse cx="873" cy="517" rx="59" ry="24"/><text x="873" y="523">Asterion</text></g>
<g id="n387"><ellipse cx="920" cy="515" rx="70" ry="24"/><text x="920" y="521">Light's End</text></g>
<g id="n388"><ellipse cx="883" cy="503" rx="54" ry="24"/><text x="883" y="509">Conthin</text></g>
<g id="n389"><ellipse cx="937" cy="497" rx="54" ry="24"/><text x="937" y="503">Gromen</text></g>
<g id="n390"><ellipse cx="943" cy="477" rx="49" ry="24"/><text x="943" y="483">Direis</text></g>
<g id="n391"><ellipse cx="883" cy="467" rx="38" ry="24"/><text x="883" y="473">Ribe</text></g>
<g id="n392"><ellipse cx="937" cy="467" rx="70" ry="24"/><text x="937" y="473">Rothenraam</text></g>
<g id="n393"><ellipse cx="870" cy="453" rx="54" ry="24"/><text x="870" y="459">Apollis</text></g>
<g id="n394"><ellipse cx="907" cy="445" rx="38" ry="24"/><text x="907" y="451">Biwi</text></g>
<g id="n395"><ellipse cx="883" cy="440" rx="54" ry="24"/><text x="883" y="446">Pacorli</text></g>
<g id="n396"><ellipse cx="920" cy="435" rx="97" ry="24"/><text x="920" y="441">Bradhimon's Maw</text></g>
<g id="n397"><ellipse cx="920" cy="417" rx="75" ry="24"/><text x="920" y="423">Pendanalyke</text></g>
<g id="n398"><ellipse cx="913" cy="413" rx="59" ry="24"/><text x="913" y="419">Lagionar</text></g>
<g id="n399"><ellipse cx="877" cy="398" rx="49" ry="24"/><text x="877" y="404">Heldar</text></g>
<g id="n400"><ellipse cx="913" cy="397" rx="49" ry="24"/><text x="913" y="403">Sorkan</text></g>
<g id="n401"><ellipse cx="947" cy="400" rx="54" ry="24"/><text x="947" y="406">Ravator</text></g>
<g id="n402"><ellipse cx="877" cy="377" rx="49" ry="24"/><text x="877" y="383">Ceylon</text></g>
<g id="n403"><ellipse cx="890" cy="375" rx="44" ry="24"/><text x="890" y="381">Krabn</text></g>
<g id="n404"><ellipse cx="940" cy="373" rx="59" ry="24"/><text x="940" y="379">Kiriatros</text></g>
<g id="n405"><ellipse cx="1043" cy="385" rx="44" ry="24"/><text x="1043" y="391">Tiorn</text></g>
<g id="n406"><ellipse cx="1087" cy="385" rx="59" ry="24"/><text x="1087" y="391">Riddigus</text></g>
<g id="n407"><ellipse cx="1053" cy="398" rx="59" ry="24"/><text x="1053" y="404">Endrlang</text></g>
<g id="n408"><ellipse cx="1070" cy="417" rx="65" ry="24"/><text x="1070" y="423">Nemonessa</text></g>
<g id="n409"><ellipse cx="1063" cy="427" rx="70" ry="24"/><text x="1063" y="433">Mothellium</text></g>
<g id="n410"><ellipse cx="1043" cy="435" rx="54" ry="24"/><text x="1043" y="441">Upraria</text></g>
<g id="n411"><ellipse cx="1087" cy="433" rx="59" ry="24"/><text x="1087" y="439">Nascella</text></g>
<g id="n412"><ellipse cx="1038" cy="514" rx="44" ry="24"/><text x="1038" y="520">Cador</text></g>
<g id="n413"><ellipse cx="1102" cy="509" rx="54" ry="24"/><text x="1102" y="515">Mubblar</text></g>
<g id="n414"><ellipse cx="1127" cy="527" rx="59" ry="24"/><text x="1127" y="533">Vestallus</text></g>
<g id="n415"><ellipse cx="1087" cy="535" rx="70" ry="24"/><text x="1087" y="541">Duraseadon</text></g>
<g id="n416"><ellipse cx="1055" cy="551" rx="54" ry="24"/><text x="1055" y="557">Remston</text></g>
<g id="n417"><ellipse cx="1077" cy="560" rx="65" ry="24"/><text x="1077" y="566">Camglaria</text></g>
<g id="n418"><ellipse cx="1037" cy="573" rx="70" ry="24"/><text x="1037" y="579">Valkudiros</text></g>
<g id="n419"><ellipse cx="1020" cy="598" rx="75" ry="24"/><text x="1020" y="604">Dilaphander</text></g>
<g id="n420"><ellipse cx="1070" cy="599" rx="118" ry="24"/><text x="1070" y="605">Beacon of Perpetuity</text></g>
<g id="n421"><ellipse cx="1097" cy="608" rx="100" ry="24"/><text x="1097" y="614">Beacon of Infinity</text></g>
<g id="n422"><ellipse cx="1062" cy="617" rx="106" ry="24"/><text x="1062" y="623">Beacon of Stability</text></g>
<g id="n423"><ellipse cx="963" cy="620" rx="54" ry="24"/><text x="963" y="626">Glindor</text></g>
<g id="n424"><ellipse cx="1033" cy="617" rx="75" ry="24"/><text x="1033" y="623">Bracon Hole</text></g>
<g id="n425"><ellipse cx="1040" cy="627" rx="54" ry="24"/><text x="1040" y="633">Landeen</text></g>
<g id="n426"><ellipse cx="987" cy="653" rx="54" ry="24"/><text x="987" y="659">Foldora</text></g>
<g id="n427"><ellipse cx="1007" cy="665" rx="81" ry="24"/><text x="1007" y="671">Suskar's Maw</text></g>
<g id="n428"><ellipse cx="1053" cy="661" rx="59" ry="24"/><text x="1053" y="667">Numakkam</text></g>
<g id="n429"><ellipse cx="973" cy="683" rx="49" ry="24"/><text x="973" y="689">Pytham</text></g>
<g id="n430"><ellipse cx="1020" cy="694" rx="54" ry="24"/><text x="1020" y="700">Seradon</text></g>
<g id="n431"><ellipse cx="967" cy="708" rx="49" ry="24"/><text x="967" y="714">Bysthu</text></g>
<g id="n432"><ellipse cx="1027" cy="708" rx="44" ry="24"/><text x="1027" y="714">Cygni</text></g>
<g id="n433"><ellipse cx="1050" cy="713" rx="49" ry="24"/><text x="1050" y="719">Nejaga</text></g>
<g id="n434"><ellipse cx="683" cy="367" rx="54" ry="24"/><text x="683" y="373">Ozaghan</text></g>
<g id="n435"><ellipse cx="763" cy="367" rx="65" ry="24"/><text x="763" y="373">Kaliduzum</text></g>
<g id="n436"><ellipse cx="750" cy="377" rx="49" ry="24"/><text x="750" y="383">Teeton</text></g>
<g id="n437"><ellipse cx="720" cy="387" rx="54" ry="24"/><text x="720" y="393">Mawward</text></g>
<g id="n438"><ellipse cx="707" cy="398" rx="65" ry="24"/><text x="707" y="404">Impal Tey</text></g>
<g id="n439"><ellipse cx="723" cy="410" rx="70" ry="24"/><text x="723" y="416">Pewagorgun</text></g>
<g id="n440"><ellipse cx="730" cy="428" rx="54" ry="24"/><text x="730" y="434">Amparal</text></g>
<g id="n441"><ellipse cx="773" cy="428" rx="54" ry="24"/><text x="773" y="434">Cazaros</text></g>
<g id="n442"><ellipse cx="723" cy="440" rx="54" ry="24"/><text x="723" y="446">Yephant</text></g>
<g id="n443"><ellipse cx="757" cy="447" rx="49" ry="24"/><text x="757" y="453">Pullan</text></g>
<g id="n444"><ellipse cx="717" cy="457" rx="54" ry="24"/><text x="717" y="463">Gequeum</text></g>
<g id="n445"><ellipse cx="763" cy="458" rx="54" ry="24"/><text x="763" y="464">Spaltru</text></g>
<g id="n446"><ellipse cx="743" cy="467" rx="65" ry="24"/><text x="743" y="473">Sarzahope</text></g>
<g id="n447"><ellipse cx="767" cy="478" rx="59" ry="24"/><text x="767" y="484">Azaltran</text></g>
<g id="n448"><ellipse cx="710" cy="508" rx="66" ry="24"/><text x="710" y="514">Geltauri</text></g>
<g id="n449"><ellipse cx="767" cy="508" rx="70" ry="24"/><text x="767" y="514">Black Hole</text></g>
<g id="n450"><ellipse cx="783" cy="500" rx="44" ry="24"/><text x="783" y="506">Vimar</text></g>
<g id="n451"><ellipse cx="780" cy="519" rx="49" ry="24"/><text x="780" y="525">Elbrin</text></g>
<g id="n452"><ellipse cx="763" cy="537" rx="59" ry="24"/><text x="763" y="543">Hasseleh</text></g>
<g id="n453"><ellipse cx="757" cy="549" rx="54" ry="24"/><text x="757" y="555">Zhoblar</text></g>
<g id="n454"><ellipse cx="767" cy="562" rx="38" ry="24"/><text x="767" y="568">Okul</text></g>
<g id="n455"><ellipse cx="560" cy="978" rx="65" ry="24"/><text x="560" y="984">Padrog-Vol</text></g>
<g id="n456"><ellipse cx="467" cy="991" rx="49" ry="24"/><text x="467" y="997">Boldon</text></g>
<g id="n457"><ellipse cx="500" cy="996" rx="70" ry="24"/><text x="500" y="1002">Ruhinderim</text></g>
<g id="n458"><ellipse cx="567" cy="994" rx="38" ry="24"/><text x="567" y="1000">Naos</text></g>
<g id="n459"><ellipse cx="547" cy="1006" rx="38" ry="24"/><text x="547" y="1012">Skat</text></g>
<g id="n460"><ellipse cx="440" cy="1019" rx="65" ry="24"/><text x="440" y="1025">Xel Matak</text></g>
<g id="n461"><ellipse cx="500" cy="1021" rx="49" ry="24"/><text x="500" y="1027">Tokron</text></g>
<g id="n462"><ellipse cx="563" cy="1024" rx="44" ry="24"/><text x="563" y="1030">Marab</text></g>
<g id="n463"><ellipse cx="590" cy="1016" rx="65" ry="24"/><text x="590" y="1022">Geekarvis</text></g>
<g id="n464"><ellipse cx="647" cy="1009" rx="65" ry="24"/><text x="647" y="1015">Eadominar</text></g>
<g id="n465"><ellipse cx="590" cy="1034" rx="59" ry="24"/><text x="590" y="1040">Broglion</text></g>
<g id="n466"><ellipse cx="637" cy="1034" rx="75" ry="24"/><text x="637" y="1040">Singularity</text></g>
<g id="n467"><ellipse cx="683" cy="1034" rx="49" ry="24"/><text x="683" y="1040">Gilbra</text></g>
<g id="n468"><ellipse cx="527" cy="1044" rx="38" ry="24"/><text x="527" y="1050">Ashy</text></g>
<g id="n469"><ellipse cx="573" cy="1044" rx="59" ry="24"/><text x="573" y="1050">Aceltion</text></g>
<g id="n470"><ellipse cx="713" cy="1028" rx="38" ry="24"/><text x="713" y="1034">Kuma</text></g>
<g id="n471"><ellipse cx="723" cy="1039" rx="49" ry="24"/><text x="723" y="1045">Edenar</text></g>
<g id="n472"><ellipse cx="747" cy="1056" rx="38" ry="24"/><text x="747" y="1062">Pash</text></g>
<g id="n473"><ellipse cx="623" cy="1064" rx="54" ry="24"/><text x="623" y="1070">Grugnir</text></g>
<g id="n474"><ellipse cx="690" cy="1064" rx="75" ry="24"/><text x="690" y="1070">Ipsalon Indi</text></g>
<g id="n475"><ellipse cx="623" cy="1076" rx="44" ry="24"/><text x="623" y="1082">Myrum</text></g>
<g id="n476"><ellipse cx="773" cy="986" rx="59" ry="24"/><text x="773" y="992">Roganoin</text></g>
<g id="n477"><ellipse cx="750" cy="1001" rx="49" ry="24"/><text x="750" y="1007">Faenov</text></g>
<g id="n478"><ellipse cx="922" cy="956" rx="49" ry="24"/><text x="922" y="962">Hotram</text></g>
<g id="n479"><ellipse cx="853" cy="964" rx="65" ry="24"/><text x="853" y="970">Sadalbari</text></g>
<g id="n480"><ellipse cx="890" cy="966" rx="54" ry="24"/><text x="890" y="972">Pleione</text></g>
<g id="n481"><ellipse cx="887" cy="989" rx="44" ry="24"/><text x="887" y="995">Regas</text></g>
<g id="n482"><ellipse cx="837" cy="993" rx="44" ry="24"/><text x="837" y="999">Cagan</text></g>
<g id="n483"><ellipse cx="877" cy="998" rx="59" ry="24"/><text x="877" y="1004">Soblecon</text></g>
<g id="n484"><ellipse cx="863" cy="1004" rx="59" ry="24"/><text x="863" y="1010">Wirn Dan</text></g>
<g id="n485"><ellipse cx="827" cy="1011" rx="49" ry="24"/><text x="827" y="1017">Seifall</text></g>
<g id="n486"><ellipse cx="813" cy="1019" rx="44" ry="24"/><text x="813" y="1025">Darep</text></g>
</g>
</svg>
